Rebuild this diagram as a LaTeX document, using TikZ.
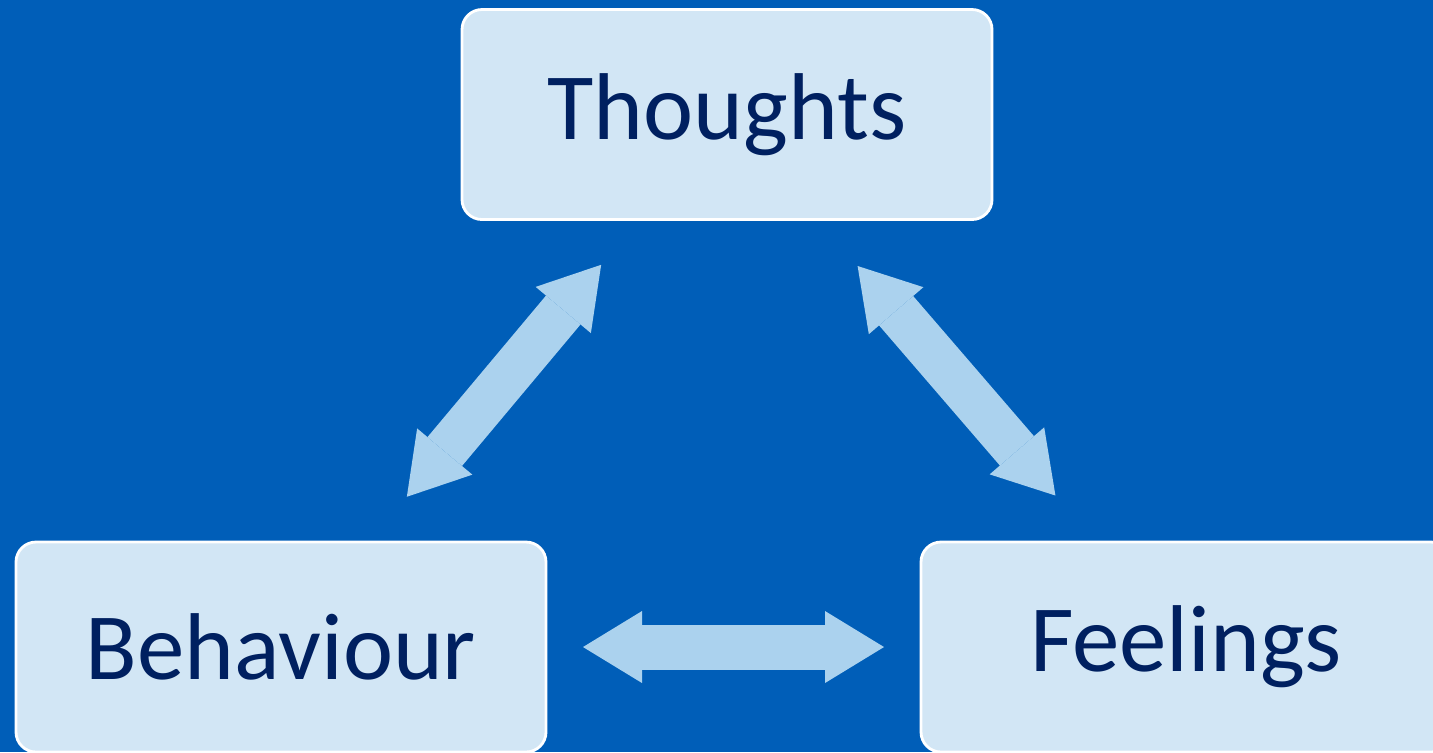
\documentclass[tikz,border=0pt]{standalone}
\usepackage{fontspec}
\setmainfont{Carlito}
\usetikzlibrary{arrows.meta}
\definecolor{nhsblue}{RGB}{0,94,184}
\definecolor{boxfill}{RGB}{210,230,245}
\definecolor{boxtext}{RGB}{0,32,96}
\definecolor{arrowfill}{RGB}{171,210,238}
\begin{document}
\begin{tikzpicture}[every node/.style={draw=white,line width=0.8pt,rectangle,rounded corners=0.2cm,fill=boxfill,text=boxtext,minimum width=5.3cm,minimum height=2.1cm,font=\fontsize{27}{32}\selectfont},
	link/.style={color=arrowfill,line width=0.45cm,{Triangle[length=0.59cm,width=0.72cm,line width=0pt]}-{Triangle[length=0.59cm,width=0.72cm,line width=0pt]}}]
		\useasboundingbox (0,0) rectangle (14.33,-7.52);
		\clip (0,0) rectangle (14.33,-7.52);
		\fill[nhsblue] (0,0) rectangle (14.33,-7.52);
		
		\node (thoughts) at (7.27,-1.145) {Thoughts};
		\node (behaviour) at (2.81,-6.47) {Behaviour};
		\node (feelings) at (11.86,-6.47) {Feelings};
		
		\draw[link,shorten <=1.96cm,shorten >=1.96cm] (behaviour.center) edge (thoughts.center);
		\draw[link,shorten <=2.0cm,shorten >=2.0cm] (feelings.center) edge (thoughts.center);
		\draw[link,shorten <=3.02cm,shorten >=3.02cm] (behaviour.center) edge (feelings.center);
	\end{tikzpicture}
\end{document}
